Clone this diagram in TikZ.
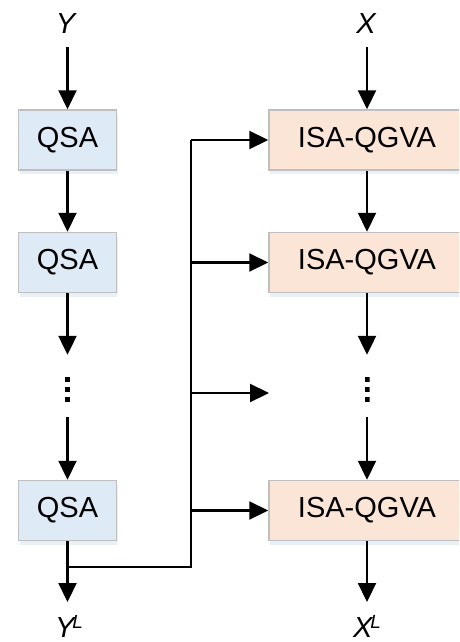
\documentclass[tikz,border=0pt]{standalone}
\usepackage{fontspec}
\setmainfont{Liberation Sans}
\usetikzlibrary{arrows.meta,shadows}

\definecolor{qsafill}{HTML}{DEEAF6}
\definecolor{isafill}{HTML}{FBE5D6}
\definecolor{boxline}{HTML}{BFBFBF}
\definecolor{shade}{HTML}{D5E1F0}

\tikzset{
  block/.style={draw=boxline, line width=1.5pt, minimum height=60pt,
    inner sep=0pt, font=\fontsize{29}{34}\selectfont,
    drop shadow={shadow xshift=1pt, shadow yshift=-4pt, fill=shade, opacity=0.5}},
  qsabox/.style={block, fill=qsafill, minimum width=98pt},
  isabox/.style={block, fill=isafill, minimum width=196pt},
  gapdots/.style={minimum width=5pt, minimum height=62pt, inner sep=0pt,
    path picture={
      \fill ([yshift=-22pt]path picture bounding box.north west) rectangle ++(5pt,-5pt);
      \fill ([yshift=-32pt]path picture bounding box.north west) rectangle ++(5pt,-5pt);
      \fill ([yshift=-42pt]path picture bounding box.north west) rectangle ++(5pt,-5pt);
    }},
  lab/.style={inner sep=0pt, font=\fontsize{29}{34}\selectfont\itshape},
  wire/.style={line width=2.2pt},
  arr/.style={wire, -{Triangle[width=18pt,length=19pt]}}
}

\newcommand{\suplab}[1]{\kern-2pt\raisebox{9pt}{\fontsize{19}{19}\selectfont\itshape #1}}

\begin{document}
\begin{tikzpicture}[x=1pt,y=-1pt]
  \useasboundingbox (0,0) rectangle (459,642);
  \clip (0,0) rectangle (459,642);

  % query branch
  \node[lab, anchor=base] (ylab) at (65.5,34) {Y};
  \coordinate (ystart) at (67.5,47);
  \node[qsabox] (q1) at (67.5,140) {QSA};
  \node[qsabox] (q2) at (67.5,262.5) {QSA};
  \node[gapdots] (qd) at (67.5,386) {};
  \node[qsabox] (q3) at (67.5,510.5) {QSA};
  \coordinate (yend) at (67.5,602);
  \node[lab, anchor=base] (yout) at (69,637) {Y\suplab{L}};

  % main branch
  \node[lab, anchor=base] (xlab) at (366,34) {X};
  \coordinate (xstart) at (367,47);
  \node[isabox] (i1) at (367,140) {ISA-QGVA};
  \node[isabox] (i2) at (367,262.5) {ISA-QGVA};
  \node[gapdots] (id) at (367,386) {};
  \node[isabox] (i3) at (367,510.5) {ISA-QGVA};
  \coordinate (xend) at (367,602);
  \node[lab, anchor=base] (xout) at (367,637) {X\suplab{L}};

  % vertical flow
  \draw[arr] (ystart) -- (q1.north);
  \draw[arr] (q1.south) -- (q2.north);
  \draw[arr] (q2.south) -- (qd.north);
  \draw[arr] (qd.south) -- (q3.north);
  \draw[arr] (q3.south) -- (yend);

  \draw[arr] (xstart) -- (i1.north);
  \draw[arr] (i1.south) -- (i2.north);
  \draw[arr] (i2.south) -- (id.north);
  \draw[arr] (id.south) -- (i3.north);
  \draw[arr] (i3.south) -- (xend);

  % feed of the query output into every stage
  \coordinate (split) at (67.5,567);
  \coordinate (bus) at (191,140);
  \coordinate (gap) at (269,393);
  \draw[wire] (split) -| (bus);
  \draw[arr] (bus) -- (i1.west);
  \draw[arr] (bus |- i2.west) -- (i2.west);
  \draw[arr] (bus |- gap) -- (gap);
  \draw[arr] (bus |- i3.west) -- (i3.west);
\end{tikzpicture}
\end{document}
